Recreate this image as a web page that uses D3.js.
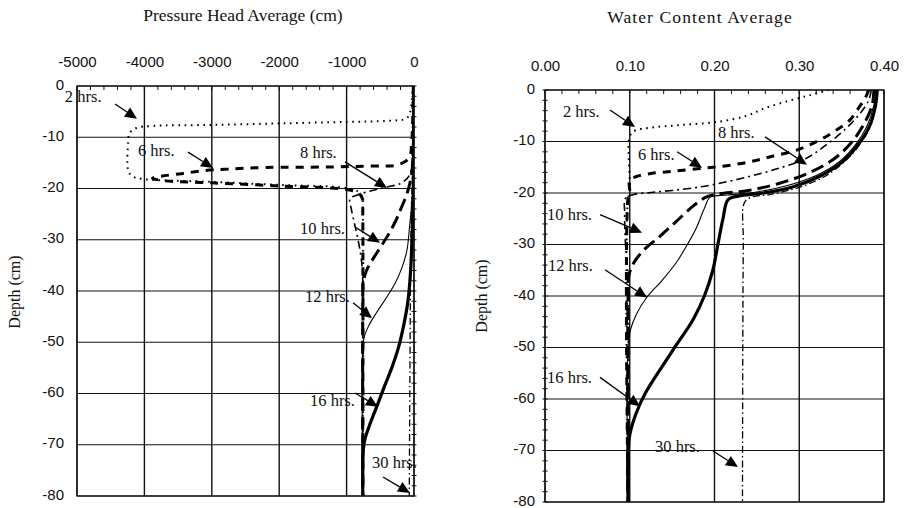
<!DOCTYPE html>
<html>
<head>
<meta charset="utf-8">
<script src="https://cdn.jsdelivr.net/npm/d3@7"></script>
<style>
  body { margin: 0; background: #fff; }
  svg { display: block; }
  .tick-label { font-family: "Liberation Sans", Arial, sans-serif; font-size: 15px; fill: #111; }
  .serif { font-family: "Liberation Serif", "Times New Roman", serif; fill: #111; }
</style>
</head>
<body>
<svg id="chart" width="917" height="508"></svg>
<script>
// ---- data ----
const hours = ["2 hrs.", "6 hrs.", "8 hrs.", "10 hrs.", "12 hrs.", "16 hrs.", "30 hrs."];
const headTicks = [-5000, -4000, -3000, -2000, -1000, 0];
const thetaTicks = [0, 0.1, 0.2, 0.3, 0.4];
const depthTicks = [0, -10, -20, -30, -40, -50, -60, -70, -80];

// pressure head profiles: [h (cm), depth (cm)]
const head2 = [[-15,0],[-30,-2.5],[-55,-5],[-110,-6.3],[-400,-6.8],[-1000,-7.0],[-2000,-7.3],[-3000,-7.6],[-3900,-7.8],[-4120,-8.2],[-4220,-9.2],[-4240,-11],[-4240,-16.5],[-4180,-17.6],[-4050,-18.1],[-3000,-18.7],[-2000,-19.3],[-1000,-19.9],[-830,-20.6],[-770,-21.6],[-760,-24],[-760,-80]];
const head6 = [[-10,0],[-18,-6],[-35,-11],[-70,-14],[-250,-15.4],[-600,-15.6],[-1250,-15.8],[-2200,-15.9],[-2750,-16.2],[-3100,-16.5],[-3450,-17.1],[-3750,-17.6],[-3880,-18.0],[-3700,-18.5],[-3000,-18.9],[-2000,-19.5],[-1000,-20.2],[-820,-20.9],[-765,-22],[-760,-25],[-760,-80]];
const head8 = [[-5,0],[-10,-8],[-25,-14],[-70,-17.5],[-200,-19],[-400,-19.7],[-620,-20.4],[-850,-21.3],[-950,-22],[-930,-24],[-880,-27],[-830,-30],[-790,-33],[-765,-36],[-760,-40],[-760,-80]];
const head10 = [[-3,0],[-8,-10],[-25,-16],[-55,-18.6],[-104,-21],[-180,-23.5],[-260,-26],[-380,-29],[-500,-31.5],[-620,-34],[-710,-36.2],[-755,-38.5],[-760,-41],[-760,-80]];
const head12 = [[-2,0],[-6,-12],[-15,-20],[-40,-24],[-70,-28],[-104,-32],[-180,-35.5],[-280,-38.5],[-420,-41.5],[-560,-44.3],[-680,-47],[-740,-49],[-760,-51],[-760,-80]];
const head16 = [[-2,0],[-5,-12],[-10,-20],[-25,-28],[-50,-36],[-90,-42],[-150,-46.5],[-230,-51],[-330,-55],[-450,-59],[-560,-62.8],[-660,-66.2],[-730,-69],[-755,-71.5],[-760,-74],[-760,-80]];
const head30 = [[-5,0],[-15,-15],[-35,-22],[-50,-35],[-60,-55],[-70,-80]];

// water content profiles: [theta, depth (cm)]
const theta2 = [[0.335,0],[0.313,-1],[0.290,-2],[0.260,-3.5],[0.238,-5.0],[0.203,-6.2],[0.16,-6.8],[0.125,-7.3],[0.106,-7.9],[0.100,-9],[0.100,-20],[0.098,-21],[0.098,-80]];
const theta6 = [[0.382,0],[0.378,-1.5],[0.370,-3.5],[0.36,-5.8],[0.342,-8],[0.324,-9.7],[0.300,-11.5],[0.265,-13],[0.240,-14],[0.210,-14.8],[0.180,-15.3],[0.150,-15.8],[0.125,-16.2],[0.108,-16.8],[0.100,-17.5],[0.100,-20],[0.098,-21],[0.098,-80]];
const theta8 = [[0.385,0],[0.382,-2],[0.372,-4.5],[0.355,-7.5],[0.333,-10.5],[0.309,-13.2],[0.28,-15],[0.25,-16.4],[0.215,-17.8],[0.18,-18.9],[0.15,-19.5],[0.125,-19.9],[0.105,-20.3],[0.095,-21],[0.094,-24],[0.095,-30],[0.097,-34],[0.098,-38],[0.098,-80]];
const theta10 = [[0.388,0],[0.386,-3],[0.375,-7],[0.36,-10.5],[0.34,-13.5],[0.31,-16.2],[0.275,-18.2],[0.24,-19.5],[0.20,-20.3],[0.19,-20.8],[0.175,-22.5],[0.155,-25.5],[0.135,-28.5],[0.117,-31],[0.105,-33.5],[0.099,-36],[0.098,-40],[0.098,-80]];
const theta12 = [[0.39,0],[0.388,-3],[0.38,-7],[0.367,-10.5],[0.348,-13.8],[0.32,-16.6],[0.285,-18.6],[0.25,-19.8],[0.215,-20.4],[0.195,-20.8],[0.188,-23],[0.178,-27],[0.168,-30],[0.155,-33.5],[0.138,-37],[0.12,-40.3],[0.108,-43.5],[0.101,-46.5],[0.098,-50],[0.098,-80]];
const theta16 = [[0.392,0],[0.39,-3],[0.383,-7],[0.37,-10.5],[0.352,-13.8],[0.326,-16.6],[0.293,-18.8],[0.258,-20],[0.228,-20.6],[0.216,-21.3],[0.21,-25],[0.204,-30],[0.198,-35],[0.188,-40],[0.175,-44.5],[0.155,-49.5],[0.135,-54.5],[0.118,-59],[0.107,-63],[0.1,-67],[0.098,-71],[0.098,-80]];
const theta30 = [[0.392,0],[0.39,-3],[0.384,-7],[0.372,-10.5],[0.354,-13.8],[0.33,-16.8],[0.298,-19],[0.265,-20.3],[0.242,-20.9],[0.235,-22],[0.234,-30],[0.233,-80]];

// ---- line style for each time step ----
const styles = [
  { w: 2.0, dash: "1.6,4.6" },     // 2 hrs: dotted
  { w: 3.0, dash: "8,7" },         // 6 hrs: heavy dashes
  { w: 1.6, dash: "8,4,2,4" },     // 8 hrs: dash-dot
  { w: 3.0, dash: "13,6" },        // 10 hrs: long heavy dashes
  { w: 1.1, dash: null },          // 12 hrs: thin solid
  { w: 3.2, dash: null },          // 16 hrs: thick solid
  { w: 1.3, dash: "7,3,1.5,3" }    // 30 hrs: thin dash-dot
];

// ---- annotation anchors (data units): label start, arrow tail, arrow tip ----
const headNotes = [
  { tx: -5180, ty: -3.1, ax: -4436, ay: -3.5, bx: -4110, by: -6.4 },
  { tx: -4095, ty: -13.7, ax: -3353, ay: -12.9, bx: -2982, by: -16.0 },
  { tx: -1691, ty: -14.0, ax: -1024, ay: -14.8, bx: -401, by: -19.9 },
  { tx: -1691, ty: -28.9, ax: -875, ay: -27.5, bx: -504, by: -30.6 },
  { tx: -1617, ty: -42.1, ax: -905, ay: -42.3, bx: -623, by: -45.3 },
  { tx: -1543, ty: -62.4, ax: -875, ay: -59.9, bx: -534, by: -62.6 },
  { tx: -623, ty: -74.5, ax: -460, ay: -76.3, bx: -59, by: -79.4 }
];
const thetaNotes = [
  { tx: 0.0212, ty: -5.2, ax: 0.0767, ay: -3.9, bx: 0.1062, by: -7.2 },
  { tx: 0.1097, ty: -13.6, ax: 0.1558, ay: -12.0, bx: 0.1853, by: -15.1 },
  { tx: 0.2041, ty: -9.3, ax: 0.2596, ay: -9.1, bx: 0.3091, by: -14.5 },
  { tx: 0.0024, ty: -25.2, ax: 0.0649, ay: -24.2, bx: 0.1145, by: -27.7 },
  { tx: 0.0035, ty: -35.1, ax: 0.0708, ay: -34.9, bx: 0.1204, by: -40.3 },
  { tx: 0.0024, ty: -56.8, ax: 0.0649, ay: -55.8, bx: 0.1121, by: -61.4 },
  { tx: 0.1298, ty: -70.3, ax: 0.1982, ay: -70.1, bx: 0.2277, by: -73.2 }
];

// ---- panels ----
const panels = [
  {
    id: "head",
    title: "Pressure Head Average (cm)", titleX: 243, titleY: 21, titleSize: 17.5, titleSpacing: 0,
    x: d3.scaleLinear().domain([-5000, 0]).range([77, 414]),
    y: d3.scaleLinear().domain([0, -80]).range([86, 496]),
    xTicks: headTicks, xFmt: d => String(d),
    xMinor: d3.range(-5000, 1, 200),
    yLabelX: 20, yLabelY: 292, yPad: 13,
    minorSide: "right",
    series: [head2, head6, head8, head10, head12, head16, head30],
    notes: headNotes
  },
  {
    id: "theta",
    title: "Water Content Average", titleX: 700, titleY: 23, titleSize: 17.5, titleSpacing: 1.1,
    x: d3.scaleLinear().domain([0, 0.4]).range([545, 884]),
    y: d3.scaleLinear().domain([0, -80]).range([90, 502]),
    xTicks: thetaTicks, xFmt: d => d.toFixed(2),
    xMinor: d3.range(0, 0.4001, 0.02),
    yLabelX: 487, yLabelY: 296, yPad: 10,
    minorSide: "left",
    series: [theta2, theta6, theta8, theta10, theta12, theta16, theta30],
    notes: thetaNotes
  }
];

const svg = d3.select("#chart");
const defs = svg.append("defs");

panels.forEach(p => {
  const [x0, x1] = p.x.range();
  const [y0, y1] = p.y.range();
  const g = svg.append("g");

  // title
  g.append("text").attr("class", "serif")
    .attr("x", p.titleX).attr("y", p.titleY)
    .attr("text-anchor", "middle")
    .style("font-size", p.titleSize + "px")
    .style("letter-spacing", p.titleSpacing + "px")
    .text(p.title);

  // grid
  g.append("g").selectAll("line").data(p.xTicks).join("line")
    .attr("x1", d => p.x(d)).attr("x2", d => p.x(d))
    .attr("y1", y0).attr("y2", y1)
    .attr("stroke", "#111").attr("stroke-width", 1.4);
  g.append("g").selectAll("line").data(depthTicks).join("line")
    .attr("x1", x0).attr("x2", x1)
    .attr("y1", d => p.y(d)).attr("y2", d => p.y(d))
    .attr("stroke", "#111").attr("stroke-width", 1.1);

  // minor ticks along top
  g.append("g").selectAll("line").data(p.xMinor).join("line")
    .attr("x1", d => p.x(d)).attr("x2", d => p.x(d))
    .attr("y1", y0).attr("y2", y0 + 4)
    .attr("stroke", "#111").attr("stroke-width", 1);

  // minor ticks along one vertical border
  const bx = p.minorSide === "right" ? x1 : x0;
  g.append("g").selectAll("line").data(d3.range(0, -80.1, -2)).join("line")
    .attr("x1", bx - 2.5).attr("x2", bx + 2.5)
    .attr("y1", d => p.y(d)).attr("y2", d => p.y(d))
    .attr("stroke", "#111").attr("stroke-width", 1);

  // axes labels
  const ax = g.append("g").attr("transform", `translate(0,${y0})`)
    .call(d3.axisTop(p.x).tickValues(p.xTicks).tickFormat(p.xFmt).tickSize(0).tickPadding(19));
  ax.select(".domain").remove();
  ax.selectAll("text").attr("class", "tick-label").attr("font-family", null).attr("font-size", null);

  const ay = g.append("g").attr("transform", `translate(${x0},0)`)
    .call(d3.axisLeft(p.y).tickValues(depthTicks).tickFormat(d => String(d)).tickSize(0).tickPadding(p.yPad));
  ay.select(".domain").remove();
  ay.selectAll("text").attr("class", "tick-label").attr("font-family", null).attr("font-size", null)
    .attr("dy", "0.2em");

  // depth label
  g.append("text").attr("class", "serif")
    .attr("transform", `translate(${p.yLabelX},${p.yLabelY}) rotate(-90)`)
    .attr("text-anchor", "middle")
    .style("font-size", "16px")
    .text("Depth (cm)");

  // curves
  const clipId = "clip-" + p.id;
  defs.append("clipPath").attr("id", clipId)
    .append("rect").attr("x", x0).attr("y", y0).attr("width", x1 - x0).attr("height", y1 - y0);

  const line = d3.line()
    .x(d => p.x(d[0])).y(d => p.y(d[1]))
    .curve(d3.curveCatmullRom.alpha(0.5));

  const cg = g.append("g").attr("clip-path", `url(#${clipId})`);
  p.series.forEach((s, i) => {
    const st = styles[i];
    cg.append("path").datum(s)
      .attr("d", line)
      .attr("fill", "none")
      .attr("stroke", "#000")
      .attr("stroke-width", st.w)
      .attr("stroke-dasharray", st.dash)
      .attr("stroke-linejoin", "round");
  });

  // border
  g.append("rect").attr("x", x0).attr("y", y0)
    .attr("width", x1 - x0).attr("height", y1 - y0)
    .attr("fill", "none").attr("stroke", "#111").attr("stroke-width", 1.2);

  // labels with arrows
  p.notes.forEach((n, i) => {
    const xa = p.x(n.ax), ya = p.y(n.ay), xb = p.x(n.bx), yb = p.y(n.by);
    const ang = Math.atan2(yb - ya, xb - xa);
    const L = 12, Wd = 5.5;
    const bxp = xb - L * Math.cos(ang), byp = yb - L * Math.sin(ang);
    g.append("line")
      .attr("x1", xa).attr("y1", ya).attr("x2", bxp).attr("y2", byp)
      .attr("stroke", "#000").attr("stroke-width", 1.3);
    const px = -Math.sin(ang), py = Math.cos(ang);
    g.append("polygon")
      .attr("points", [
        [xb, yb],
        [bxp + px * Wd, byp + py * Wd],
        [bxp - px * Wd, byp - py * Wd]
      ].map(q => q.join(",")).join(" "))
      .attr("fill", "#000");
    g.append("text").attr("class", "serif")
      .attr("x", p.x(n.tx)).attr("y", p.y(n.ty))
      .style("font-size", "16.5px")
      .text(hours[i]);
  });
});
</script>
</body>
</html>
